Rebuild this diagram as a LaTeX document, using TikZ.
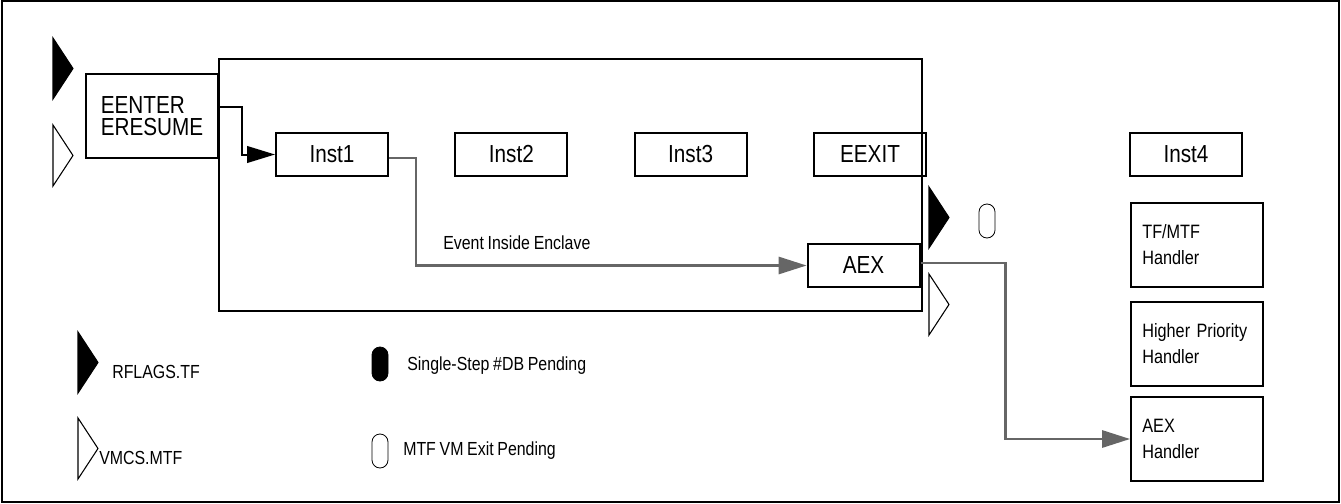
\documentclass[tikz,border=0pt]{standalone}
\usepackage{fontspec}
\setmainfont{Liberation Sans}[FakeStretch=0.84, WordSpace=0.84]
\usetikzlibrary{arrows.meta, positioning}
\definecolor{flowgray}{RGB}{102,102,102}
\newcommand{\tfflag}[3]{ % #1: x, #2: y (top corner), #3: fill colour
  \filldraw[fill=#3, draw=black, line width=0.8pt] (#1,#2) -- ++(20,30.5) -- ++(-20,30.5) -- cycle;
}
\newcommand{\pendpill}[3]{ % #1: x, #2: y (top left), #3: fill colour
  \filldraw[fill=#3, draw=black, line width=0.6pt, rounded corners=6pt] (#1,#2) rectangle ++(16,34);
}
\tikzset{
  instbox/.style={draw, line width=1.5pt, minimum width=84pt, minimum height=32pt,
    inner sep=0pt, font=\fontsize{18.5}{16.5}\selectfont},
  handlerbox/.style={draw, line width=1.5pt, minimum width=99pt, minimum height=63pt,
    text width=82pt, inner xsep=8.5pt, align=left, font=\fontsize{14.5}{19.5}\selectfont},
  legendtext/.style={anchor=west, inner sep=0pt, font=\fontsize{14.2}{15}\selectfont},
  grayflow/.style={draw=flowgray, line width=1.6pt,
    -{Triangle[length=21pt, width=13pt, fill=flowgray]}},
}

\begin{document}
\begin{tikzpicture}[x=0.75pt, y=-0.75pt]
\useasboundingbox (0,0) rectangle (1341,503);

% outer frame and enclave
\draw[line width=1.5pt] (2,1) rectangle (1339,502);
\draw[line width=1.5pt] (219,59) rectangle (922,311);

% entry instruction
\node[instbox, minimum width=99pt, minimum height=63pt, align=left] (eenter) at (152,116) {EENTER\\ERESUME};

% instructions inside the enclave
\node[instbox] (inst1) at (332,154.5) {Inst1};
\node[instbox, right=49pt of inst1] (inst2) {Inst2};
\node[instbox, right=49pt of inst2] (inst3) {Inst3};
\node[instbox, right=49pt of inst3] (eexit) {EEXIT};
\node[instbox] (aex) at (863.5,265.5) {AEX};

% outside the enclave
\node[instbox] (inst4) at (1186,154.5) {Inst4};
\node[handlerbox] (tfh) at (1197,245) {TF/MTF\\Handler};
\node[handlerbox] (hph) at (1197,343.5) {\mbox{Higher Priority}\\Handler};
\node[handlerbox] (aexh) at (1197,439) {AEX\\Handler};

% flows
\draw[line width=1.5pt, -{Triangle[length=21pt, width=12.5pt]}]
  ([yshift=6.75pt]eenter.east) -- ++(23,0) |- (inst1.west);
\draw[grayflow] ([yshift=-2.6pt]inst1.east) -- ++(27,0) |- (aex.west);
\node[legendtext] (evt) at (443,243) {Event Inside Enclave};
\draw[grayflow] ([yshift=1.9pt]aex.east) -- ++(85,0) |- (aexh.west);

% flag marks
\tfflag{53}{38}{black}
\tfflag{53}{125}{white}
\tfflag{929}{187}{black}
\tfflag{929}{274}{white}
\pendpill{979}{204}{white}

% legend
\tfflag{78}{332}{black}
\node[legendtext] (rflags) at (112,372) {RFLAGS.TF};
\tfflag{78}{418}{white}
\node[legendtext] (vmcs) at (99,458) {VMCS.MTF};
\pendpill{372}{347}{black}
\node[legendtext] (sstep) at (407,366) {Single-Step \#DB Pending};
\pendpill{372}{434}{white}
\node[legendtext] (mtfvm) at (403,451) {MTF VM Exit Pending};

\end{tikzpicture}
\end{document}
